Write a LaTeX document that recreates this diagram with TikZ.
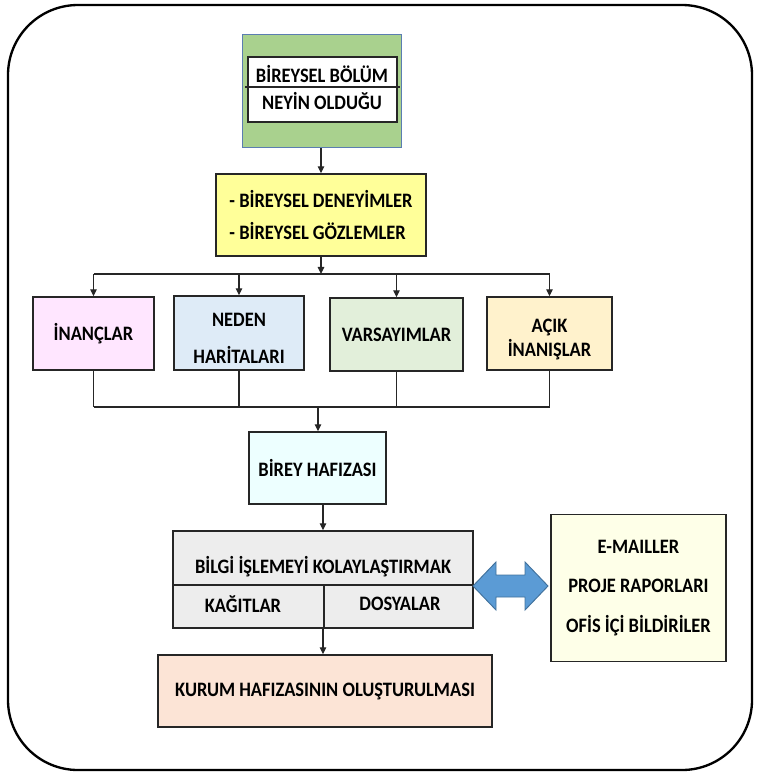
\documentclass[tikz,border=0pt]{standalone}
\usepackage{fontspec}
\setmainfont{Carlito}[FakeStretch=0.9]
\usetikzlibrary{arrows.meta, positioning}
\definecolor{leafgreen}{HTML}{A9D18E}
\definecolor{frameblue}{HTML}{5B7DB1}
\definecolor{lemon}{HTML}{FFFF99}
\definecolor{orchid}{HTML}{FFE6FF}
\definecolor{skyblue}{HTML}{DEEBF7}
\definecolor{sage}{HTML}{E2EFDA}
\definecolor{cream}{HTML}{FFF2CC}
\definecolor{icecyan}{HTML}{EDFFFF}
\definecolor{silver}{HTML}{EDEDED}
\definecolor{peach}{HTML}{FCE4D6}
\definecolor{ivory}{HTML}{FEFFE8}
\definecolor{arrowblue}{HTML}{5B9BD5}
\definecolor{arrowedge}{HTML}{41719C}
\def\pxl{0.03cm}
\tikzset{
  block/.style={draw=black!85, line width=1.2pt, inner sep=0pt},
  boxsize/.style 2 args={minimum width=#1*\pxl, minimum height=#2*\pxl},
  caption/.style={font=\fontsize{17.5}{21}\selectfont\bfseries, align=center, inner sep=0pt},
  link/.style={line width=1pt, black!85},
  flow/.style={link, -{Triangle[length=6pt, width=5.5pt]}}
}

\begin{document}
\begin{tikzpicture}[x=0.03cm, y=-0.03cm]
  \useasboundingbox (0,0) rectangle (758,775);
  % --- Outer frame ---
  \draw[line width=2pt, rounded corners=2.1cm] (8,5) rectangle (752,770);

  % --- Individual part ---
  \node[block, draw=frameblue, fill=leafgreen, boxsize={159}{113}] (part) at (322,91) {};
  \node[block, fill=white, boxsize={149}{65}] (what) at (322.5,89.5) {};
  \draw[link] ([xshift=-2*\pxl, yshift=2.5*\pxl]what.west) -- ([xshift=2*\pxl, yshift=2.5*\pxl]what.east);
  \node[caption] (partname) at (322,74) {BİREYSEL BÖLÜM};
  \node[caption] (partwhat) at (322,101) {NEYİN OLDUĞU};

  % --- Experiences and observations ---
  \node[block, fill=lemon, boxsize={210}{82}, caption, align=left,
        font=\fontsize{17.5}{28}\selectfont\bfseries] (obs) at (321,215)
        {- BİREYSEL DENEYİMLER\\- BİREYSEL GÖZLEMLER};
  \draw[flow] (part.south -| obs.north) -- (obs.north);

  % --- Four mental models ---
  \node[block, fill=orchid, boxsize={121}{73}, caption] (b1) at (93.5,333.5) {İNANÇLAR};
  \node[block, fill=skyblue, boxsize={130}{74}] (b2) at (239,333) {};
  \node[block, fill=sage, boxsize={133}{73}, caption] (b3) at (396.5,334.5) {VARSAYIMLAR};
  \node[block, fill=cream, boxsize={125}{73}] (b4) at (549.5,333.5) {};
  \node[caption, font=\fontsize{17.5}{31.5}\selectfont\bfseries] (b2text) at (239,338.5)
        {NEDEN\\HARİTALARI};
  \node[caption, font=\fontsize{17.5}{20}\selectfont\bfseries] (b4text) at (549.5,339.5)
        {AÇIK\\İNANIŞLAR};

  % split bus above the boxes
  \coordinate (bus) at (320,274);
  \draw[flow] (obs.south) -- (obs.south |- bus);
  \draw[link] (b1 |- bus) -- (b4 |- bus);
  \foreach \b in {b1,b2,b3,b4} {
    \draw[flow] (\b |- bus) -- (\b.north);
  }

  % merge bus below the boxes
  \coordinate (merge) at (318,407);
  \foreach \b in {b1,b2,b3,b4} {
    \draw[link] (\b.south) -- (\b.south |- merge);
  }
  \draw[link] (b1 |- merge) -- (b4 |- merge);

  % --- Personal memory ---
  \node[block, fill=icecyan, boxsize={137}{72}, caption] (mem) at (317.5,468) {BİREY HAFIZASI};
  \draw[flow] (merge) -- (merge |- mem.north);

  % --- Information processing ---
  \node[block, fill=silver, boxsize={300}{97}] (info) at (323,579.5) {};
  \coordinate (split) at (324,585);
  \draw[link] (info.west |- split) -- (info.east |- split);
  \draw[link] (split) -- (split |- info.south);
  \node[caption] (infoname) at (323,567) {BİLGİ İŞLEMEYİ KOLAYLAŞTIRMAK};
  \node[caption] (papers) at (243,604) {KAĞITLAR};
  \node[caption] (files) at (400,604) {DOSYALAR};
  \draw[flow] (mem.south -| info.north) -- (info.north);

  % --- Other sources, two way exchange ---
  \node[block, fill=ivory, boxsize={175}{147}, caption,
        font=\fontsize{17.5}{33.5}\selectfont\bfseries] (notes) at (638.5,588)
        {E-MAILLER\\PROJE RAPORLARI\\OFİS İÇİ BİLDİRİLER};
  \filldraw[fill=arrowblue, draw=arrowedge, line width=0.8pt]
    (473,586) -- (496,562) -- (496,575) -- (525,575) -- (525,562) -- (548,586)
    -- (525,610) -- (525,597) -- (496,597) -- (496,610) -- cycle;

  % --- Organisational memory ---
  \node[block, fill=peach, boxsize={334}{72}, caption] (corp) at (325,691)
        {KURUM HAFIZASININ OLUŞTURULMASI};
  \draw[flow] (info.south) -- (info.south |- corp.north);
\end{tikzpicture}
\end{document}
